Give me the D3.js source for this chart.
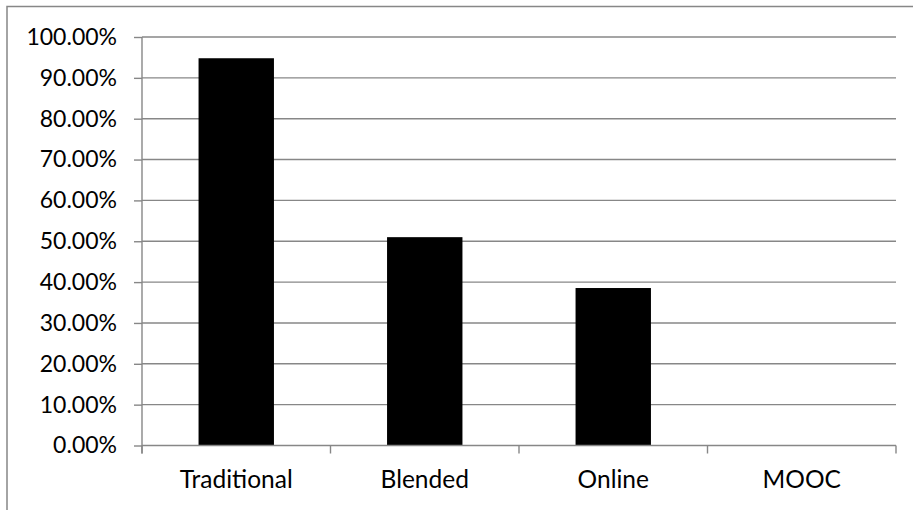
<!DOCTYPE html>
<html>
<head>
<meta charset="utf-8">
<script src="https://cdn.jsdelivr.net/npm/d3@7"></script>
<style>
  html, body { margin: 0; padding: 0; background: #fff; }
  svg { display: block; }
  text { font-family: Lato, "Open Sans", sans-serif; fill: #000; }
</style>
</head>
<body>
<svg id="chart" width="913" height="510"></svg>
<script>
// Share of courses by delivery mode
const categories = ["Traditional", "Blended", "Online", "MOOC"];
const shares = [0.948, 0.51, 0.3855, 0];
const yTicks = [0, 0.1, 0.2, 0.3, 0.4, 0.5, 0.6, 0.7, 0.8, 0.9, 1.0];

const svg = d3.select("#chart");
const plotLeft = 142, plotRight = 896, plotTop = 37, plotBottom = 445.5;
const gridColor = "#878787";

// outer frame (only top and left edges fall inside the view)
svg.append("rect")
  .attr("x", 7).attr("y", 6.5)
  .attr("width", 1000).attr("height", 1000)
  .attr("fill", "none").attr("stroke", gridColor).attr("stroke-width", 1.5);

const x = d3.scaleBand().domain(categories).range([plotLeft, plotRight]).paddingInner(0).paddingOuter(0);
const y = d3.scaleLinear().domain([0, 1]).range([plotBottom, plotTop]);

// horizontal gridlines
svg.append("g").selectAll("line").data(yTicks.filter(d => d > 0)).join("line")
  .attr("x1", plotLeft).attr("x2", plotRight)
  .attr("y1", d => y(d)).attr("y2", d => y(d))
  .attr("stroke", gridColor).attr("stroke-width", 1.4);

// bars
const barW = x.bandwidth() * 0.4;
svg.append("g").selectAll("rect").data(categories).join("rect")
  .attr("x", d => x(d) + (x.bandwidth() - barW) / 2)
  .attr("width", barW)
  .attr("y", (d, i) => y(shares[i]))
  .attr("height", (d, i) => y(0) - y(shares[i]))
  .attr("fill", "#000");

// y axis
const yAxis = d3.axisLeft(y).tickValues(yTicks)
  .tickFormat(d => (d * 100).toFixed(2) + "%")
  .tickSize(8).tickPadding(17);
const gy = svg.append("g").attr("transform", `translate(${plotLeft},0)`).call(yAxis);
gy.select(".domain").remove();
gy.selectAll(".tick line").attr("stroke", gridColor).attr("stroke-width", 1.4);
gy.selectAll(".tick text").style("font-size", "23px").attr("font-family", null);

// vertical axis line, running slightly past the baseline
svg.append("line")
  .attr("x1", plotLeft).attr("x2", plotLeft)
  .attr("y1", plotTop).attr("y2", plotBottom + 8)
  .attr("stroke", gridColor).attr("stroke-width", 1.4);

// x axis with boundary ticks between categories
svg.append("line")
  .attr("x1", plotLeft).attr("x2", plotRight)
  .attr("y1", plotBottom).attr("y2", plotBottom)
  .attr("stroke", gridColor).attr("stroke-width", 1.4);
const bounds = categories.map(c => x(c)).concat([plotRight]);
svg.append("g").selectAll("line").data(bounds).join("line")
  .attr("x1", d => d).attr("x2", d => d)
  .attr("y1", plotBottom).attr("y2", plotBottom + 8)
  .attr("stroke", gridColor).attr("stroke-width", 1.4);

svg.append("g").selectAll("text").data(categories).join("text")
  .attr("x", d => x(d) + x.bandwidth() / 2)
  .attr("y", 488)
  .attr("text-anchor", "middle")
  .style("font-size", "24.5px")
  .text(d => d);
</script>
</body>
</html>
